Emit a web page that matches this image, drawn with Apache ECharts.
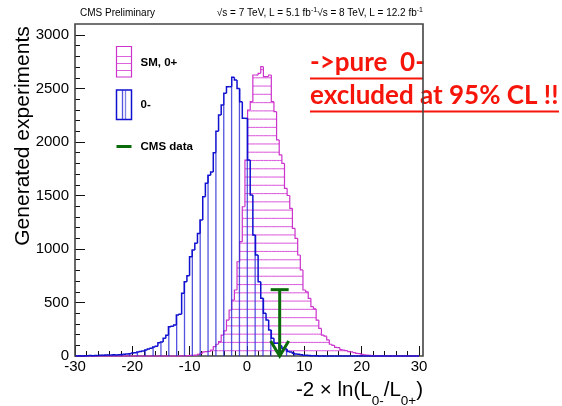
<!DOCTYPE html>
<html><head><meta charset="utf-8">
<script src="https://cdn.jsdelivr.net/npm/echarts@6/dist/echarts.min.js"></script>
<style>html,body{margin:0;padding:0;background:#fff}#c{width:562px;height:406px}</style>
</head><body><div id="c"></div>
<script>
// ---- data ----
const binStart = -29.8;     // low edge of first bin
const binWidth = 0.46;      // bin width
const xTicks = [-30, -20, -10, 0, 10, 20, 30];
const yTicks = [0, 500, 1000, 1500, 2000, 2500, 3000];
// 0- hypothesis pseudo-experiments (130 bins)
const minusCounts = [
  1,2,1,3,2,4,3,5,4,6,
  8,9,10,9,11,10,12,15,17,18,
  22,27,30,37,42,46,56,66,72,85,
  90,125,130,165,195,274,278,290,383,390,
  586,695,750,928,990,1053,1146,1271,1489,1614,
  1690,1720,1900,2100,2252,2346,2455,2517,2517,2604,
  2580,2500,2377,2221,2221,1832,1505,1131,944,694,
  539,399,336,243,165,120,118,95,72,65,
  42,38,25,19,16,12,8,6,5,3,
  3,2,1,1,0,0,0,0,0,0,
  0,0,0,0,0,0,0,0,0,0,
  0,0,0,0,0,0,0,0,0,0,
  0,0,0,0,0,0,0,0,0,0
];
// SM 0+ hypothesis pseudo-experiments (130 bins)
const smCounts = [
  0,0,0,0,0,0,0,0,0,0,
  0,0,0,0,0,0,0,0,0,0,
  0,0,0,0,0,0,0,0,0,0,
  0,0,0,0,0,0,0,0,0,0,
  1,2,3,5,6,9,15,25,38,40,
  44,56,87,110,134,196,235,336,430,523,
  617,881,1068,1395,1832,2299,2377,2626,2626,2642,
  2704,2611,2611,2626,2377,2283,2019,1880,1800,1567,
  1500,1380,1193,1100,944,804,617,600,539,461,
  440,336,258,196,185,150,110,100,81,78,
  60,56,50,40,38,32,25,22,16,10,
  8,6,4,3,2,1,0,0,0,0,
  0,0,0,0,0,0,0,0,0,0
];
const cmsDataX = 5.7;
const cmsArrowTop = 620;

// ---- styling ----
const FONT = '"Liberation Sans", Arial, Helvetica, sans-serif';
const BLUE = '#1010d0';
const PINK = '#cc33cc';
const GREEN = '#0b6b0b';
const RED = '#f5150a';

function toBins(counts) {
  return counts.map((v, i) => [binStart + i * binWidth, binStart + (i + 1) * binWidth, v, i > 0 ? counts[i - 1] : 0]);
}

function histRender(kind) {
  return function (params, api) {
    const x0 = api.value(0), x1 = api.value(1), v = api.value(2), pv = api.value(3);
    const b0 = api.coord([x0, 0]), t1 = api.coord([x1, v]), pp = api.coord([x0, pv]);
    const base = b0[1], top = t1[1], xa = b0[0], xb = t1[0];
    const ch = [];
    if (kind === 'sm') {
      for (let k = 0; ; k++) {
        const y = base - 5.3 - k * 8.27;
        if (y <= top + 0.4) break;
        ch.push({type: 'line', shape: {x1: xa, y1: y, x2: xb, y2: y},
          style: {stroke: 'rgba(215,70,215,0.85)', lineWidth: 1.1}});
      }
    } else if (v > 0) {
      const ox = api.coord([0, 0])[0] + 0.3;
      const sp = 7.85;
      for (let k = Math.ceil((xa - ox) / sp); ; k++) {
        const x = ox + k * sp;
        if (x >= xb) break;
        ch.push({type: 'line', shape: {x1: x, y1: base, x2: x, y2: top},
          style: {stroke: 'rgba(40,40,215,0.8)', lineWidth: 1.3}});
      }
    }
    ch.push({type: 'polyline', shape: {points: [[xa, pp[1]], [xa, top], [xb, top]]},
      style: {stroke: kind === 'sm' ? PINK : BLUE, lineWidth: kind === 'sm' ? 1.2 : 1.5, fill: null}});
    return {type: 'group', children: ch};
  };
}

function arrowRender(params, api) {
  const p = api.coord([api.value(0), api.value(1)]);
  const b = api.coord([api.value(0), 0]);
  const st = {stroke: GREEN, lineWidth: 3, fill: null};
  return {type: 'group', children: [
    {type: 'line', shape: {x1: p[0], y1: p[1], x2: b[0], y2: b[1] - 1}, style: st},
    {type: 'line', shape: {x1: p[0] - 9, y1: p[1], x2: p[0] + 9, y2: p[1]}, style: st},
    {type: 'polyline', shape: {points: [[b[0] - 9, b[1] - 15], [b[0], b[1]], [b[0] + 9, b[1] - 15]]}, style: st}
  ]};
}

// measure text for manual rich placement
const mctx = document.createElement('canvas').getContext('2d');
function tw(text, font) { mctx.font = font; return mctx.measureText(text).width; }

// x-axis title tokens
const titleTokens = [
  {t: '-2 \u00d7 ln(L', s: 20.5, dy: 0},
  {t: '0-', s: 13.5, dy: 11},
  {t: '/L', s: 20.5, dy: 0},
  {t: '0+', s: 13.5, dy: 11},
  {t: ')', s: 20.5, dy: 0}
];
const titleGraphics = [];
(function () {
  let total = 0;
  titleTokens.forEach(tk => { tk.w = tw(tk.t, tk.s + 'px "Liberation Sans"'); total += tk.w; });
  let x = 423 - total;
  titleTokens.forEach(tk => {
    titleGraphics.push({type: 'text', x: x, y: 390 + tk.dy, silent: true,
      style: {text: tk.t, fontSize: tk.s, fontFamily: FONT, fill: '#000', align: 'left', verticalAlign: 'middle'}});
    x += tk.w;
  });
})();

const legendGraphics = [
  {type: 'rect', shape: {x: 116.5, y: 46.5, width: 15, height: 30.5}, style: {fill: null, stroke: PINK, lineWidth: 1.2}},
  {type: 'line', shape: {x1: 116.5, y1: 56.5, x2: 131.5, y2: 56.5}, style: {stroke: 'rgba(215,70,215,0.85)', lineWidth: 1}},
  {type: 'line', shape: {x1: 116.5, y1: 63.5, x2: 131.5, y2: 63.5}, style: {stroke: 'rgba(215,70,215,0.85)', lineWidth: 1}},
  {type: 'line', shape: {x1: 116.5, y1: 70.5, x2: 131.5, y2: 70.5}, style: {stroke: 'rgba(215,70,215,0.85)', lineWidth: 1}},
  {type: 'rect', shape: {x: 116.5, y: 90, width: 15, height: 29.5}, style: {fill: null, stroke: BLUE, lineWidth: 1.5}},
  {type: 'line', shape: {x1: 122.5, y1: 90, x2: 122.5, y2: 119.5}, style: {stroke: 'rgba(40,40,215,0.8)', lineWidth: 1.3}},
  {type: 'line', shape: {x1: 125.5, y1: 90, x2: 125.5, y2: 119.5}, style: {stroke: 'rgba(40,40,215,0.6)', lineWidth: 1.3}},
  {type: 'line', shape: {x1: 116.5, y1: 146.5, x2: 131.5, y2: 146.5}, style: {stroke: GREEN, lineWidth: 3}},
  {type: 'text', x: 140.5, y: 62.5, style: {text: 'SM, 0+', font: 'bold 11.5px "Liberation Sans"', fill: '#000', verticalAlign: 'middle'}},
  {type: 'text', x: 140.5, y: 105, style: {text: '0-', font: 'bold 11.5px "Liberation Sans"', fill: '#000', verticalAlign: 'middle'}},
  {type: 'text', x: 140.5, y: 147, style: {text: 'CMS data', font: 'bold 11.5px "Liberation Sans"', fill: '#000', verticalAlign: 'middle'}}
].map(g => Object.assign({silent: true, z: 3}, g));

const chart = echarts.init(document.getElementById('c'), null, {renderer: 'canvas'});
chart.setOption({
  animation: false,
  backgroundColor: '#fff',
  grid: {left: 75, right: 143, top: 35, bottom: 50, show: false},
  xAxis: {
    type: 'value', min: xTicks[0], max: xTicks[xTicks.length - 1], interval: 10,
    axisLine: {show: false, onZero: false},
    axisTick: {show: true, inside: true, length: 10, lineStyle: {color: '#111', width: 1}},
    minorTick: {show: true, splitNumber: 5, length: 5, lineStyle: {color: '#111', width: 1}},
    splitLine: {show: false},
    axisLabel: {fontSize: 15, fontFamily: FONT, color: '#000', margin: 3, formatter: v => String(v)}
  },
  yAxis: {
    type: 'value', min: yTicks[0], max: yTicks[yTicks.length - 1], interval: 500,
    axisLine: {show: false, onZero: false},
    axisTick: {show: true, inside: true, length: 10, lineStyle: {color: '#111', width: 1}},
    minorTick: {show: true, splitNumber: 5, length: 5, lineStyle: {color: '#111', width: 1}},
    splitLine: {show: false},
    axisLabel: {fontSize: 15, fontFamily: FONT, color: '#000', margin: 6, formatter: v => String(v)}
  },
  graphic: [
    {type: 'text', x: 310, y: 63, z: 0, silent: true,
      style: {text: '->pure  0-', font: 'bold 26px Lato', fill: RED, verticalAlign: 'middle'}},
    {type: 'rect', z: 0, silent: true, shape: {x: 310, y: 77.5, width: 113, height: 2}, style: {fill: RED}},
    {type: 'text', x: 310, y: 96, z: 0, silent: true,
      style: {text: 'excluded at 95% CL !!', font: 'bold 26px Lato', fill: RED, verticalAlign: 'middle'}},
    {type: 'rect', z: 0, silent: true, shape: {x: 310, y: 110.5, width: 249, height: 2}, style: {fill: RED}},
    {type: 'rect', z: 1, silent: true, shape: {x: 75, y: 24, width: 348, height: 332},
      style: {fill: null, stroke: '#444', lineWidth: 1.6}},
    {type: 'text', x: 80, y: 13, silent: true,
      style: {text: 'CMS Preliminary', fontSize: 10, fontFamily: FONT, fill: '#000', verticalAlign: 'middle'}},
    {type: 'text', x: 423, y: 13, silent: true,
      style: {text: '{a|\u221As = 7 TeV, L = 5.1 fb}{b|-1}{a|\u221As = 8 TeV, L = 12.2 fb}{b|-1}',
        align: 'right', verticalAlign: 'middle',
        rich: {a: {fontSize: 10, fontFamily: FONT, fill: '#000', lineHeight: 12},
               b: {fontSize: 7, fontFamily: FONT, fill: '#000', verticalAlign: 'top', lineHeight: 8}}}},
    {type: 'text', x: 23, y: 136, rotation: Math.PI / 2, silent: true,
      style: {text: 'Generated experiments', fontSize: 21, fontFamily: FONT, fill: '#000', align: 'center', verticalAlign: 'middle'}}
  ].concat(titleGraphics, legendGraphics),
  series: [
    {type: 'custom', name: 'SM, 0+', z: 2, silent: true, renderItem: histRender('sm'),
      encode: {x: [0, 1], y: 2}, data: toBins(smCounts)},
    {type: 'custom', name: '0-', z: 3, silent: true, renderItem: histRender('minus'),
      encode: {x: [0, 1], y: 2}, data: toBins(minusCounts)},
    {type: 'custom', name: 'CMS data', z: 4, silent: true, renderItem: arrowRender,
      encode: {x: 0, y: 1}, data: [[cmsDataX, cmsArrowTop]]}
  ]
});
</script>
</body></html>
